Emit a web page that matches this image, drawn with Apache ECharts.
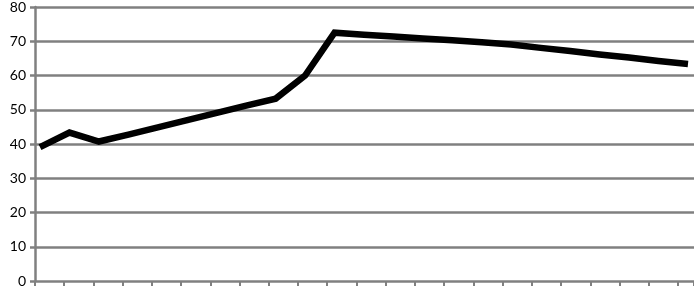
<!DOCTYPE html>
<html>
<head>
<meta charset="utf-8">
<script src="https://cdn.jsdelivr.net/npm/echarts@6/dist/echarts.min.js"></script>
<style>
html,body{margin:0;padding:0;background:#fff;}
#c{width:694px;height:288px;}
</style>
</head>
<body>
<div id="c"></div>
<script>
var categories = ['1','2','3','4','5','6','7','8','9','10','11','12','13','14','15','16','17','18','19','20','21','22','23'];
var values = [38.9, 43.1, 40.5, 42.5, 44.6, 46.7, 48.8, 50.9, 52.9, 59.6, 72.0, 71.4, 70.9, 70.3, 69.8, 69.2, 68.6, 67.6, 66.7, 65.7, 64.8, 63.8, 62.9];
var yTicks = [0, 10, 20, 30, 40, 50, 60, 70, 80];

var gray = '#808080';
var chart = echarts.init(document.getElementById('c'), null, {renderer: 'canvas'});
chart.setOption({
  animation: false,
  backgroundColor: '#fff',
  grid: [
    {left: 35, right: 0, top: 5, bottom: 6.5},
    {left: 40, right: 6, top: 5, bottom: 6.5}
  ],
  xAxis: [
    {
      type: 'value', gridIndex: 0, min: 0, max: 22.55, interval: 1,
      axisLine: {show: false},
      axisTick: {show: true, length: 5, lineStyle: {color: gray, width: 2}},
      axisLabel: {show: false},
      splitLine: {show: false}
    },
    {
      type: 'category', gridIndex: 1, data: categories, boundaryGap: false,
      show: false
    }
  ],
  yAxis: [
    {
      type: 'value', gridIndex: 0, min: yTicks[0], max: yTicks[yTicks.length - 1], interval: 10,
      axisLine: {show: true, lineStyle: {color: gray, width: 2.5}},
      axisTick: {show: true, length: 5, lineStyle: {color: gray, width: 2.5}},
      axisLabel: {color: '#000', fontSize: 14, fontFamily: 'Lato', margin: 9},
      splitLine: {show: true, lineStyle: {color: gray, width: 2.5}}
    },
    {
      type: 'value', gridIndex: 1, min: 0, max: 80, show: false
    }
  ],
  series: [{
    type: 'line',
    xAxisIndex: 1, yAxisIndex: 1,
    data: values,
    symbol: 'none',
    lineStyle: {color: '#000', width: 6.5, cap: 'butt', join: 'miter'},
    z: 5
  }]
});
</script>
</body>
</html>
